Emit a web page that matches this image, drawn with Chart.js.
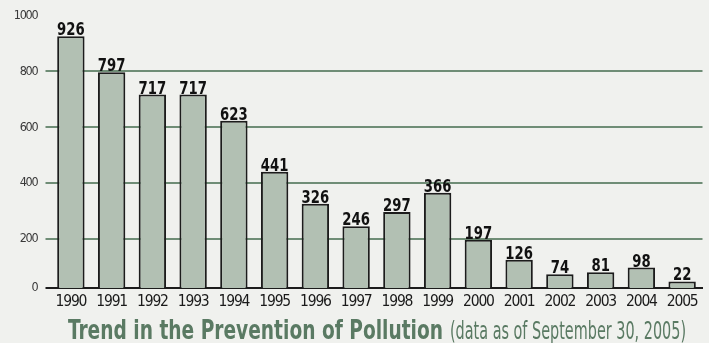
<!DOCTYPE html>
<html>
<head>
<meta charset="utf-8">
<script src="https://cdn.jsdelivr.net/npm/chart.js@4/dist/chart.umd.min.js"></script>
<style>
  html, body { margin: 0; padding: 0; background: #f0f1ee; }
  #wrap { width: 709px; height: 343px; position: relative; }
</style>
</head>
<body>
<div id="wrap"><canvas id="c" width="709" height="343"></canvas></div>
<script>
// ---- data ----
const years = ['1990','1991','1992','1993','1994','1995','1996','1997','1998','1999','2000','2001','2002','2003','2004','2005'];
const cases = [926, 797, 717, 717, 623, 441, 326, 246, 297, 366, 197, 126, 74, 81, 98, 22];
const yAxisMin = 25;      // the drawn baseline of the original sits slightly above true zero
const yAxisMax = 1000;
const yTickValues = [25, 200, 400, 600, 800, 1000];
const yTickLabels = ['0', '200', '400', '600', '800', '1000'];
const titleMain = 'Trend in the Prevention of Pollution';
const titleNote = '(data as of September 30, 2005)';

const NARROW = '"DejaVu Sans Condensed", "Liberation Sans", sans-serif';
const GRID = '#6f8d76';
const INK = '#1c1c1c';

function drawScaled(ctx, text, x, y, width) {
  const w = ctx.measureText(text).width;
  ctx.save();
  ctx.translate(x, y);
  ctx.scale(width / w, 1);
  ctx.fillText(text, 0, 0);
  ctx.restore();
}

// tighter tracking for the axis labels (the original uses a condensed face)
const tracking = {
  id: 'tracking',
  beforeDraw(chart) { chart.ctx.letterSpacing = '-1.2px'; },
  beforeDatasetsDraw(chart) { chart.ctx.letterSpacing = '0px'; }
};

const valueLabels = {
  id: 'valueLabels',
  afterDatasetsDraw(chart) {
    const ctx = chart.ctx;
    const meta = chart.getDatasetMeta(0);
    ctx.save();
    ctx.letterSpacing = '0px';
    ctx.font = 'bold 18.5px ' + NARROW;
    ctx.fillStyle = '#111';
    ctx.textAlign = 'center';
    ctx.textBaseline = 'alphabetic';
    meta.data.forEach((bar, i) => {
      const t = String(cases[i]);
      drawScaled(ctx, t, bar.x, bar.y - 1, 9.2 * t.length);
    });
    ctx.restore();
  }
};

const bottomTitle = {
  id: 'bottomTitle',
  afterDraw(chart) {
    const ctx = chart.ctx;
    ctx.save();
    ctx.letterSpacing = '0px';
    ctx.fillStyle = '#5a7a63';
    ctx.textAlign = 'left';
    ctx.textBaseline = 'alphabetic';
    ctx.font = 'bold 27px ' + NARROW;
    drawScaled(ctx, titleMain, 68, 338.5, 375);
    ctx.font = '24px ' + NARROW;
    drawScaled(ctx, titleNote, 450, 338.5, 236);
    ctx.restore();
  }
};

new Chart(document.getElementById('c'), {
  type: 'bar',
  data: {
    labels: years,
    datasets: [{
      data: cases,
      backgroundColor: '#b2c0b3',
      borderColor: INK,
      borderWidth: 2,
      borderSkipped: 'start',
      categoryPercentage: 1,
      barPercentage: 0.672,
      minBarLength: 6.5,
      clip: 0
    }]
  },
  options: {
    responsive: false,
    animation: false,
    devicePixelRatio: 1,
    layout: { padding: { top: 13.7, right: 6.5, bottom: 0, left: 0 } },
    plugins: { legend: { display: false }, tooltip: { enabled: false }, title: { display: false } },
    scales: {
      x: {
        grid: { display: false, drawTicks: false },
        border: { display: true, color: INK, width: 2 },
        ticks: { color: '#1a1a1a', font: { family: NARROW, size: 15.5 }, padding: 4.5, maxRotation: 0, autoSkip: false },
        afterFit(scale) { scale.height = 55.1; }
      },
      y: {
        min: yAxisMin,
        max: yAxisMax,
        afterBuildTicks(scale) { scale.ticks = yTickValues.map(v => ({ value: v })); },
        afterFit(scale) { scale.width = 50.5; },
        border: { display: false },
        grid: {
          drawTicks: true,
          tickLength: 5,
          lineWidth: 2,
          color(c) {
            if (!c.tick) return GRID;
            if (c.tick.value === yAxisMax) return 'rgba(0,0,0,0)';
            if (c.tick.value === yAxisMin) return INK;
            return GRID;
          }
        },
        ticks: {
          color: '#3a3a3a',
          padding: 8,
          font: { family: NARROW, size: 12.5 },
          callback(value, index) { return yTickLabels[index]; }
        }
      }
    }
  },
  plugins: [tracking, valueLabels, bottomTitle]
});
</script>
</body>
</html>
